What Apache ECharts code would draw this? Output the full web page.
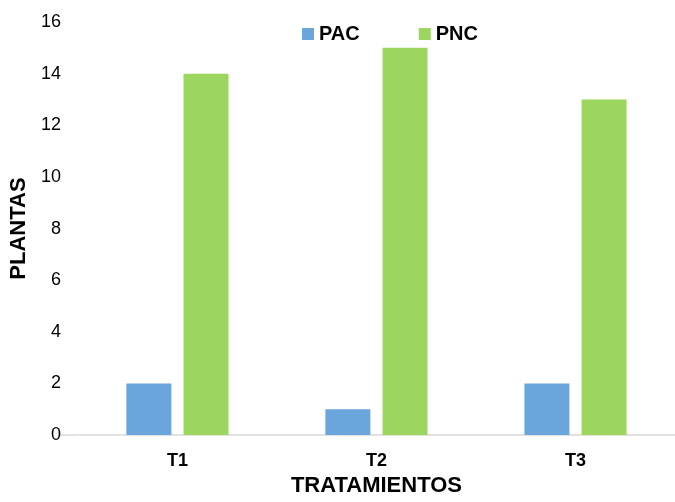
<!DOCTYPE html>
<html>
<head>
<meta charset="utf-8">
<script src="https://cdn.jsdelivr.net/npm/echarts@6/dist/echarts.min.js"></script>
<style>
  html, body { margin: 0; padding: 0; background: #fff; }
  #chart { width: 675px; height: 502px; }
</style>
</head>
<body>
<div id="chart"></div>
<script>
// Treatments and plant counts per group
const categories = ['T1', 'T2', 'T3'];
const pacValues = [2, 1, 2];
const pncValues = [14, 15, 13];
const seriesNames = ['PAC', 'PNC'];

const FONT = '"Liberation Sans", Arial, sans-serif';
const chart = echarts.init(document.getElementById('chart'), null, { renderer: 'canvas' });

chart.setOption({
  backgroundColor: '#ffffff',
  animation: false,
  legend: {
    top: 19,
    left: 297,
    itemWidth: 12,
    itemHeight: 12,
    itemGap: 59,
    icon: 'rect',
    textStyle: { fontFamily: FONT, fontWeight: 'bold', fontSize: 20, color: '#000' },
    data: seriesNames
  },
  grid: { left: 76, top: 22, width: 603, height: 419, containLabel: false },
  xAxis: {
    type: 'category',
    data: categories,
    name: 'TRATAMIENTOS',
    nameLocation: 'middle',
    nameGap: 39,
    nameTextStyle: { fontFamily: FONT, fontWeight: 'bold', fontSize: 22, color: '#000' },
    axisLine: { lineStyle: { color: '#d9d9d9', width: 1.5 } },
    axisTick: { show: false },
    axisLabel: { fontFamily: FONT, fontWeight: 'bold', fontSize: 18, color: '#000', margin: 17 }
  },
  yAxis: {
    type: 'value',
    min: 0,
    max: 16,
    interval: 2,
    name: 'PLANTAS',
    nameLocation: 'middle',
    nameGap: 40,
    nameTextStyle: { fontFamily: FONT, fontWeight: 'bold', fontSize: 22, color: '#000' },
    axisLine: { show: false },
    axisTick: { show: false },
    splitLine: { show: false },
    axisLabel: { fontFamily: FONT, fontSize: 18, color: '#000', margin: 17 }
  },
  series: [
    {
      name: seriesNames[0],
      type: 'bar',
      data: pacValues,
      barWidth: 45,
      barGap: '27%',
      itemStyle: { color: '#6aa5db' }
    },
    {
      name: seriesNames[1],
      type: 'bar',
      data: pncValues,
      barWidth: 45,
      itemStyle: { color: '#9dd65e' }
    }
  ]
});

// Extend the baseline a little to the left of the plot area
const origin = chart.convertToPixel({ xAxisIndex: 0, yAxisIndex: 0 }, [0, 0]);
chart.setOption({
  graphic: [{
    type: 'line',
    shape: { x1: 59, y1: origin[1], x2: 77, y2: origin[1] },
    style: { stroke: '#d9d9d9', lineWidth: 1.5 },
    silent: true
  }]
});
</script>
</body>
</html>
